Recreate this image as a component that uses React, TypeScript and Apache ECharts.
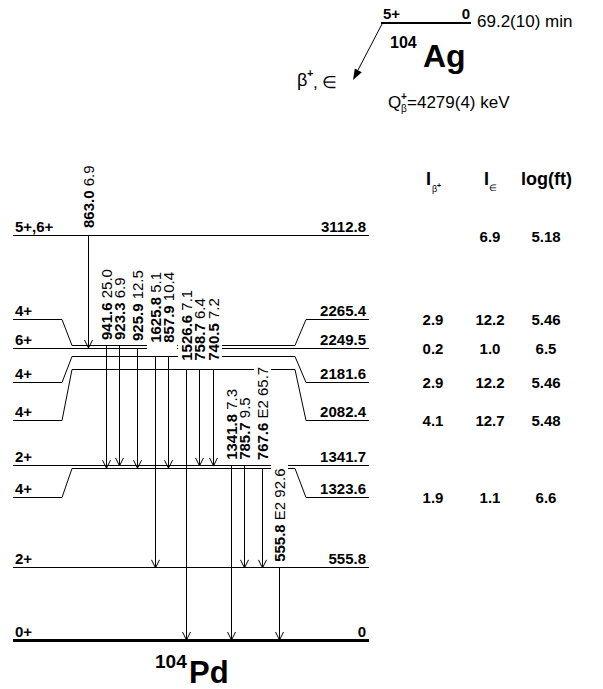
import React, { useEffect, useRef } from "react";
import * as echarts from "echarts";

const FONT = '"Liberation Sans", Arial, Helvetica, sans-serif';

// ---- Levels of 104Pd (keV) ----
const levelEnergies = [3112.8, 2265.4, 2249.5, 2181.6, 2082.4, 1341.7, 1323.6, 555.8, 0];
const levelSpins = ["5+,6+", "4+", "6+", "4+", "4+", "2+", "4+", "2+", "0+"];
const levelEnergyText = ["3112.8", "2265.4", "2249.5", "2181.6", "2082.4", "1341.7", "1323.6", "555.8", "0"];

// ---- Feeding (per level) ----
const betaPlusIntensity = ["", "2.9", "0.2", "2.9", "4.1", "", "1.9", "", ""];
const ecIntensity = ["6.9", "12.2", "1.0", "12.2", "12.7", "", "1.1", "", ""];
const logFt = ["5.18", "5.46", "6.5", "5.46", "5.48", "", "6.6", "", ""];

// ---- Gamma transitions ----
const gammaEnergies = [863.0, 941.6, 923.3, 925.9, 1625.8, 857.9, 1526.6, 758.7, 740.5, 1341.8, 785.7, 767.6, 555.8];
const gammaIntensities = [6.9, 25.0, 6.9, 12.5, 5.1, 10.4, 7.1, 6.4, 7.2, 7.3, 9.5, 65.7, 92.6];
const gammaMultipolarity = ["", "", "", "", "", "", "", "", "", "", "", "E2", "E2"];
const gammaFrom = [3112.8, 2265.4, 2265.4, 2249.5, 2181.6, 2181.6, 2082.4, 2082.4, 2082.4, 1341.7, 1341.7, 1323.6, 555.8];
const gammaTo = [2249.5, 1323.6, 1341.7, 1323.6, 555.8, 1323.6, 0, 1341.7, 1341.7, 0, 555.8, 555.8, 0];

// ---- Parent ----
const parentSpin = "5+";
const parentLevel = "0";
const parentHalfLife = "69.2(10) min";
const parentQ = "=4279(4) keV";

// ---- Layout only (not data) ----
const levelLabelRow = [3112.8, 2473.2, 2249.5, 1987.8, 1695.0, 1341.7, 1101.8, 555.8, 0];
const gammaColumn = [88, 106, 119, 137, 155, 168, 186, 199, 213, 231, 244, 262, 279];
const gammaLabelGap = [8, 6, 6, 7, 14, 14, 9, 9, 9, 6, 6, 8, 6];
const tableColumns = [433, 490, 546];

export default function App() {
  const ref = useRef<HTMLDivElement>(null);
  useEffect(() => {
    if (!ref.current) return;
    const chart = echarts.init(ref.current, null, { renderer: "svg" });
    const snap = (v: number) => Math.round(v - 0.5) + 0.5;
    const txt = (extra: any) => ({ fontFamily: FONT, fill: "#000", ...extra });

    const gammaLabel = (i: number) => {
      const m = gammaMultipolarity[i];
      return `{b|${gammaEnergies[i].toFixed(1)}} {r|${m ? m + " " : ""}${gammaIntensities[i].toFixed(1)}}`;
    };
    const richText = {
      b: { fontFamily: FONT, fontSize: 15, fontWeight: "bold", fill: "#000" },
      r: { fontFamily: FONT, fontSize: 15, fill: "#000" },
    };
    const richMask = {
      b: { fontFamily: FONT, fontSize: 15, fontWeight: "bold", fill: "#fff" },
      r: { fontFamily: FONT, fontSize: 15, fill: "#fff" },
    };

    const levelData = levelEnergies.map((e, i) => [0, e, levelLabelRow[i]]);
    const gammaData = gammaEnergies.map((_, i) => [gammaColumn[i], gammaFrom[i], gammaTo[i]]);

    const labelItem = (mask: boolean) => (params: any, api: any) => {
      const i = params.dataIndex;
      const p1 = api.coord([api.value(0), api.value(1)]);
      const x = snap(p1[0]);
      const gap = gammaLabelGap[i];
      const bgGap = 4;
      return {
        type: "text",
        x,
        y: p1[1] - (mask ? bgGap : gap),
        rotation: Math.PI / 2,
        style: {
          text: gammaLabel(i),
          rich: mask ? richMask : richText,
          fontFamily: FONT,
          fontSize: 15,
          fill: mask ? "#fff" : "#000",
          align: "left",
          verticalAlign: "middle",
          ...(mask ? { backgroundColor: "#fff", padding: [1, 4, 1, gap - bgGap] } : {}),
        },
      };
    };

    const option: any = {
      animation: false,
      backgroundColor: "#fff",
      grid: { left: 0, right: 0, top: 236, bottom: 49 },
      xAxis: { type: "value", min: 0, max: 603, show: false },
      yAxis: { type: "value", min: 0, max: 3112.8, show: false },
      series: [
        {
          type: "custom",
          silent: true,
          z: 1,
          data: levelData,
          renderItem: (params: any, api: any) => {
            const i = params.dataIndex;
            const e = api.value(1);
            const le = api.value(2);
            const X = (v: number) => api.coord([v, 0])[0];
            const ground = e === 0;
            const y = ground ? Math.round(api.coord([0, e])[1]) + 0.5 : snap(api.coord([0, e])[1]);
            const ly = e === le ? y : snap(api.coord([0, le])[1]);
            const pts =
              e === le
                ? [[X(13), y], [X(369), y]]
                : [[X(13), ly], [X(62), ly], [X(72), y], [X(295), y], [X(306), ly], [X(369), ly]];
            return {
              type: "group",
              children: [
                { type: "polyline", shape: { points: pts }, style: { stroke: "#000", lineWidth: ground ? 3 : 1, fill: "none" } },
                { type: "text", x: X(15), y: ly - 9, style: txt({ text: levelSpins[i], fontSize: 15, fontWeight: "bold", verticalAlign: "middle", align: "left" }) },
                { type: "text", x: X(366), y: ly - 9, style: txt({ text: levelEnergyText[i], fontSize: 15, fontWeight: "bold", verticalAlign: "middle", align: "right" }) },
              ],
            };
          },
        },
        {
          type: "custom",
          silent: true,
          z: 1,
          data: gammaData,
          renderItem: (params: any, api: any) => {
            const p1 = api.coord([api.value(0), api.value(1)]);
            const p2 = api.coord([api.value(0), api.value(2)]);
            const x = snap(p1[0]);
            const y1 = p1[1];
            const y2 = p2[1];
            return {
              type: "group",
              children: [
                { type: "line", shape: { x1: x, y1, x2: x, y2 }, style: { stroke: "#000", lineWidth: 1 } },
                { type: "polyline", shape: { points: [[x - 4, y2 - 8], [x, y2], [x + 4, y2 - 8]] }, style: { stroke: "#000", lineWidth: 1, fill: "none" } },
              ],
            };
          },
        },
        { type: "custom", silent: true, z: 2, data: gammaData, renderItem: labelItem(true) },
        { type: "custom", silent: true, z: 3, data: gammaData, renderItem: labelItem(false) },
        {
          type: "custom",
          silent: true,
          z: 3,
          data: levelData,
          renderItem: (params: any, api: any) => {
            const i = params.dataIndex;
            const vals = [betaPlusIntensity[i], ecIntensity[i], logFt[i]];
            const children = vals
              .map((v, k) => {
                if (!v) return null;
                const p = api.coord([tableColumns[k], api.value(2)]);
                return { type: "text", x: p[0], y: p[1], style: txt({ text: v, fontSize: 15, fontWeight: "bold", align: "center", verticalAlign: "middle" }) };
              })
              .filter(Boolean);
            return { type: "group", children };
          },
        },
      ],
      graphic: [
        { type: "line", shape: { x1: 381, y1: 23, x2: 471, y2: 23 }, style: { stroke: "#000", lineWidth: 2 } },
        { type: "text", x: 383, y: 13, style: txt({ text: parentSpin, fontSize: 15, fontWeight: "bold", verticalAlign: "middle" }) },
        { type: "text", x: 470, y: 13, style: txt({ text: parentLevel, fontSize: 15, fontWeight: "bold", align: "right", verticalAlign: "middle" }) },
        { type: "text", x: 477, y: 21, style: txt({ text: parentHalfLife, fontSize: 17, verticalAlign: "middle" }) },
        { type: "text", x: 390, y: 42, style: txt({ text: "104", fontSize: 16, fontWeight: "bold", verticalAlign: "middle" }) },
        { type: "text", x: 423, y: 56, style: txt({ text: "Ag", fontSize: 32, fontWeight: "bold", verticalAlign: "middle" }) },
        { type: "line", shape: { x1: 382, y1: 24, x2: 358, y2: 70 }, style: { stroke: "#000", lineWidth: 1 } },
        { type: "polygon", shape: { points: [[353, 80], [361.8, 72.2], [354.8, 68.4]] }, style: { fill: "#000" } },
        { type: "text", x: 297, y: 80, style: txt({ text: "β", fontSize: 18, verticalAlign: "middle" }) },
        { type: "text", x: 307, y: 73, style: txt({ text: "+", fontSize: 11, fontWeight: "bold", verticalAlign: "middle" }) },
        { type: "text", x: 313, y: 82, style: txt({ text: ", ∈", fontSize: 17, verticalAlign: "middle" }) },
        { type: "text", x: 388, y: 102, style: txt({ text: "Q", fontSize: 17, verticalAlign: "middle" }) },
        { type: "text", x: 401, y: 96, style: txt({ text: "+", fontSize: 10, fontWeight: "bold", verticalAlign: "middle" }) },
        { type: "text", x: 401, y: 108, style: txt({ text: "β", fontSize: 10, verticalAlign: "middle" }) },
        { type: "text", x: 407, y: 102, style: txt({ text: parentQ, fontSize: 17, verticalAlign: "middle" }) },
        { type: "text", x: 426, y: 179, style: txt({ text: "I", fontSize: 18, fontWeight: "bold", verticalAlign: "middle" }) },
        { type: "text", x: 432, y: 189, style: txt({ text: "β", fontSize: 9, verticalAlign: "middle" }) },
        { type: "text", x: 437, y: 185, style: txt({ text: "+", fontSize: 7, fontWeight: "bold", verticalAlign: "middle" }) },
        { type: "text", x: 484, y: 179, style: txt({ text: "I", fontSize: 18, fontWeight: "bold", verticalAlign: "middle" }) },
        { type: "text", x: 489, y: 188, style: txt({ text: "∈", fontSize: 9, verticalAlign: "middle" }) },
        { type: "text", x: 521, y: 179, style: txt({ text: "log(ft)", fontSize: 18, fontWeight: "bold", verticalAlign: "middle" }) },
        { type: "text", x: 155, y: 661, style: txt({ text: "104", fontSize: 19, fontWeight: "bold", verticalAlign: "middle" }) },
        { type: "text", x: 189, y: 672, style: txt({ text: "Pd", fontSize: 31, fontWeight: "bold", verticalAlign: "middle" }) },
      ],
    };
    chart.setOption(option);
    return () => chart.dispose();
  }, []);
  return <div ref={ref} style={{ position: "absolute", left: 0, top: 0, width: 603, height: 689, background: "#fff" }} />;
}
